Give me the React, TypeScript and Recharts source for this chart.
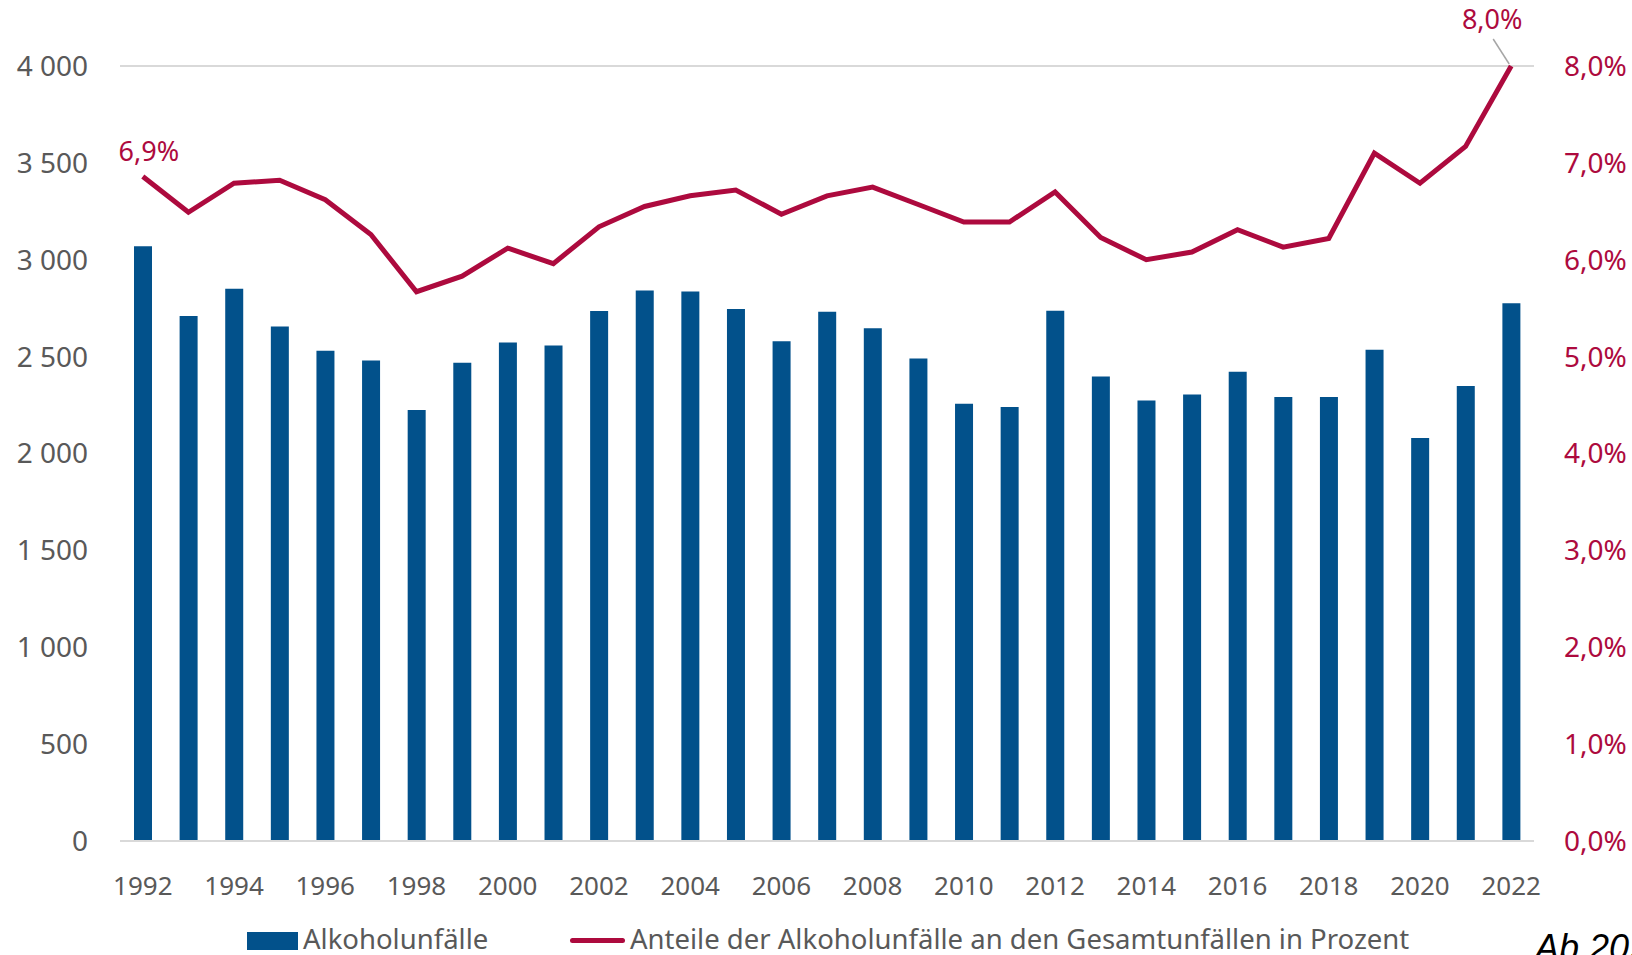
import { ComposedChart, Bar, Line, XAxis, YAxis, CartesianGrid, LabelList } from 'recharts';

const years = [
    '1992', '1993', '1994', '1995', '1996', '1997', '1998', '1999', '2000', '2001',
    '2002', '2003', '2004', '2005', '2006', '2007', '2008', '2009', '2010', '2011',
    '2012', '2013', '2014', '2015', '2016', '2017', '2018', '2019', '2020', '2021', '2022',
];

// Alkoholunfälle (absolute)
const alkoholunfaelle = [
    3070, 2710, 2850, 2655, 2530, 2480, 2225, 2468, 2573, 2558,
    2736, 2841, 2836, 2746, 2579, 2731, 2646, 2490, 2257, 2240,
    2737, 2397, 2273, 2304, 2422, 2292, 2292, 2536, 2080, 2348, 2775,
];

// Anteil an den Gesamtunfällen in %
const anteile = [
    6.86, 6.49, 6.79, 6.82, 6.62, 6.26, 5.67, 5.83, 6.12, 5.96,
    6.34, 6.55, 6.66, 6.72, 6.47, 6.66, 6.75, 6.57, 6.39, 6.39,
    6.7, 6.23, 6.0, 6.08, 6.31, 6.13, 6.22, 7.1, 6.79, 7.17, 8.0,
];

const leftTicks = [0, 500, 1000, 1500, 2000, 2500, 3000, 3500, 4000];
const rightTicks = [0, 1, 2, 3, 4, 5, 6, 7, 8];

const BLUE = '#02518B';
const RED = '#AD0A3E';
const GRAY_TEXT = '#595959';
const GRID = '#D9D9D9';
const FONT = '"Noto Sans", sans-serif';

const data = years.map((year, i) => ({
    year,
    unfaelle: alkoholunfaelle[i],
    anteil: anteile[i],
}));

const fmtThousands = (v: number) => v.toLocaleString('de-DE').replace('.', ' ');
const fmtPct = (v: number) => `${v.toFixed(1).replace('.', ',')}%`;

// only first and last points carry a data label
const PointLabel = (props: any) => {
    const { x, y, index, value } = props;
    if (index === 0) {
        return (
            <text x={x + 6} y={y - 26} fill={RED} fontSize={27} fontFamily={FONT}
                textAnchor="middle" dominantBaseline="central">
                {fmtPct(value)}
            </text>
        );
    }
    if (index === years.length - 1) {
        return (
            <g>
                <line x1={x - 18} y1={y - 27} x2={x - 2} y2={y - 2} stroke="#A6A6A6" strokeWidth={1.5} />
                <text x={x - 19} y={y - 48} fill={RED} fontSize={27} fontFamily={FONT}
                    textAnchor="middle" dominantBaseline="central">
                    {fmtPct(value)}
                </text>
            </g>
        );
    }
    return null;
};

export default function App() {
    return (
        <div style={{ position: 'absolute', left: 0, top: 0, width: 1632, height: 955, overflow: 'hidden', background: '#fff', fontFamily: FONT }}>
            <ComposedChart
                width={1632}
                height={955}
                data={data}
                margin={{ top: 66, right: 0, bottom: 84, left: 0 }}
                barCategoryGap={0}
            >
                <CartesianGrid vertical={false} stroke={GRID} strokeWidth={2} />
                <XAxis
                    dataKey="year"
                    height={30}
                    interval={1}
                    tickLine={false}
                    tickSize={0}
                    tickMargin={36}
                    axisLine={{ stroke: GRID, strokeWidth: 2 }}
                    tick={{ fill: GRAY_TEXT, fontSize: 26, fontFamily: FONT }}
                />
                <YAxis
                    yAxisId="left"
                    width={120}
                    domain={[0, 4000]}
                    ticks={leftTicks}
                    tickFormatter={fmtThousands}
                    axisLine={false}
                    tickLine={false}
                    tickSize={0}
                    tickMargin={32}
                    tick={{ fill: GRAY_TEXT, fontSize: 28, fontFamily: FONT }}
                />
                <YAxis
                    yAxisId="right"
                    orientation="right"
                    width={98}
                    domain={[0, 8]}
                    ticks={rightTicks}
                    tickFormatter={fmtPct}
                    axisLine={false}
                    tickLine={false}
                    tickSize={0}
                    tickMargin={30}
                    tick={{ fill: RED, fontSize: 28, fontFamily: FONT }}
                />
                <Bar yAxisId="left" dataKey="unfaelle" fill={BLUE} barSize={18} isAnimationActive={false} />
                <Line
                    yAxisId="right"
                    type="linear"
                    dataKey="anteil"
                    stroke={RED}
                    strokeWidth={5}
                    dot={false}
                    isAnimationActive={false}
                >
                    <LabelList dataKey="anteil" content={PointLabel} />
                </Line>
            </ComposedChart>

            {/* legend */}
            <div style={{ position: 'absolute', left: 247, top: 932, width: 51, height: 18, background: BLUE }} />
            <div style={{ position: 'absolute', left: 303, top: 924, fontSize: 27.5, color: GRAY_TEXT, lineHeight: '30px', whiteSpace: 'nowrap' }}>
                Alkoholunfälle
            </div>
            <div style={{ position: 'absolute', left: 570, top: 938, width: 55, height: 5, borderRadius: 3, background: RED }} />
            <div style={{ position: 'absolute', left: 630, top: 924, fontSize: 27.5, color: GRAY_TEXT, lineHeight: '30px', whiteSpace: 'nowrap' }}>
                Anteile der Alkoholunfälle an den Gesamtunfällen in Prozent
            </div>
            <div style={{ position: 'absolute', left: 1535, top: 928, fontSize: 36, fontStyle: 'italic', color: '#000', lineHeight: '40px', whiteSpace: 'nowrap', fontFamily: '"Liberation Sans", sans-serif' }}>
                Ab 2022
            </div>
        </div>
    );
}
